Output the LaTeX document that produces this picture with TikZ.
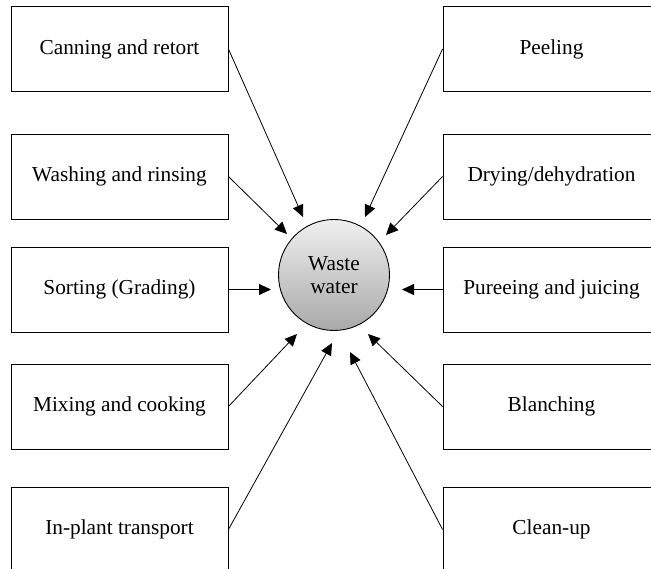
\documentclass[tikz,border=0pt]{standalone}
\usepackage{fontspec}
\setmainfont{Liberation Serif}
\usetikzlibrary{arrows.meta}

\begin{document}
\begin{tikzpicture}[
    >={Triangle[length=12pt,width=11pt]},
    x=1pt,
    y=-1pt,
    font=\fontsize{21.3}{23}\selectfont,
    stage/.style={draw, line width=0.9pt, minimum width=217pt, minimum height=85pt},
    waste/.style={circle, draw, line width=0.9pt, minimum size=111pt, inner sep=0pt, align=center,
        top color=gray!12, bottom color=gray!68},
    flow/.style={->, line width=0.8pt}
]

% parameters
\def\xL{119.5}   % centre of left column
\def\xR{551.5}   % centre of right column

% page frame, boxes run off the right and bottom edges
\clip (0,0) rectangle (651,569);

% ---------------- Centre: waste water ----------------
\node[waste] (ww) at (334,275) {Waste\\water};

% ---------------- Left column ----------------
\foreach \i/\y/\txt in {1/49/Canning and retort, 2/176.5/Washing and rinsing,
    3/289.5/Sorting (Grading), 4/406.5/Mixing and cooking, 5/529.5/In-plant transport}{
    \node[stage] (L\i) at (\xL,\y) {\txt};
}

% ---------------- Right column ----------------
\foreach \i/\y/\txt in {1/49/Peeling, 2/176.5/{Drying/dehydration},
    3/289.5/Pureeing and juicing, 4/406.5/Blanching, 5/529.5/Clean-up}{
    \node[stage] (R\i) at (\xR,\y) {\txt};
}

% arrow tips round the circle
\coordinate (tL1) at (303,217);
\coordinate (tL2) at (287,234);
\coordinate (tL3) at (271,289.5);
\coordinate (tL4) at (297,334);
\coordinate (tL5) at (332,343);
\coordinate (tR1) at (365,217);
\coordinate (tR2) at (386,235);
\coordinate (tR3) at (402,289.5);
\coordinate (tR4) at (368,334);
\coordinate (tR5) at (350,352);

% ---------------- Arrows into the circle ----------------
\foreach \i in {1,...,5}{
    \draw[flow] (L\i.east) -- (tL\i);
    \draw[flow] (R\i.west) -- (tR\i);
}

\end{tikzpicture}
\end{document}
